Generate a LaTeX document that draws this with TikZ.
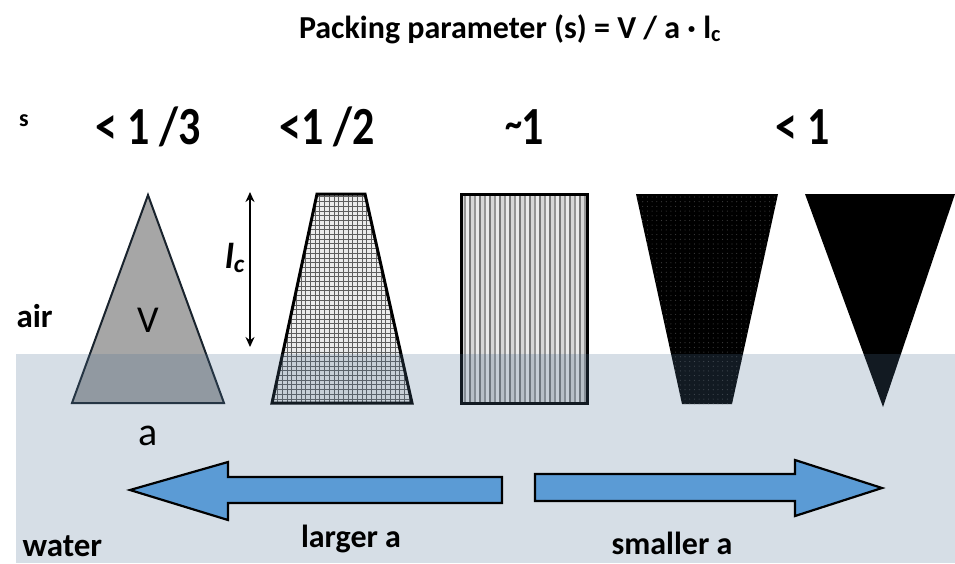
\documentclass[tikz,border=0pt]{standalone}
\usepackage{fontspec}
\setmainfont{Carlito}
\usetikzlibrary{arrows.meta}

\definecolor{waterblue}{RGB}{78,113,147}
\definecolor{arrowblue}{RGB}{91,155,213}
\definecolor{conegray}{RGB}{166,166,166}
\definecolor{conedge}{RGB}{25,35,45}
\definecolor{gridbg}{RGB}{236,236,236}
\definecolor{gridline}{RGB}{95,95,95}
\definecolor{stripecol0}{RGB}{215,215,215}
\definecolor{stripecol1}{RGB}{150,150,150}
\definecolor{stripecol2}{RGB}{235,235,235}
\definecolor{stripecol3}{RGB}{120,120,120}
\definecolor{dotgray}{RGB}{60,60,60}

\newcommand{\tallratio}[1]{\scalebox{1}[1.22]{#1}}

\tikzset{
  heading/.style={font=\fontsize{32}{36}\selectfont\bfseries, anchor=base},
  ratio/.style={font=\fontsize{44}{48}\selectfont\bfseries, anchor=base},
  medium/.style={font=\fontsize{33}{38}\selectfont\bfseries, anchor=base},
  plainlbl/.style={font=\fontsize{38}{42}\selectfont, anchor=base},
  blockarrow/.style={fill=arrowblue, draw=black, line width=2.2pt, line join=miter},
  shapeline/.style={draw=black, line width=3pt, line join=miter}
}

\begin{document}
\begin{tikzpicture}[x=1pt,y=-1pt]
\useasboundingbox (0,0) rectangle (955,563);

% title
\node[heading] (title) at (510,38) {Packing parameter (s) = V / a · l\textsubscript{c}};

% packing parameter values
\node[font=\fontsize{24}{28}\selectfont\bfseries, anchor=base] (slbl) at (24,126) {s};
\node[ratio] (r1) at (148,144) {\tallratio{< 1 /3}};
\node[ratio] (r2) at (327,144) {\tallratio{<1 /2}};
\node[ratio] (r3) at (525,144) {\tallratio{\raisebox{5pt}{\fontsize{34}{34}\selectfont\symbol{"7E}}\kern-1pt 1}};
\node[ratio] (r4) at (803,144) {\tallratio{< 1}};

% cone
\fill[conegray, draw=conedge, line width=2pt, line join=miter]
  (148,195) -- (224,403) -- (72,403) -- cycle;

% truncated cone with fine grid
\begin{scope}
  \clip (317,194) -- (365,194) -- (412,403) -- (272,403) -- cycle;
  \fill[gridbg] (265,188) rectangle (420,410);
  \foreach \gx in {0,...,31}
    \draw[gridline, line width=0.55pt] (268+\gx*4.7,188) -- (268+\gx*4.7,410);
  \foreach \gy in {0,...,46}
    \draw[gridline, line width=0.55pt] (265,192+\gy*4.7) -- (420,192+\gy*4.7);
\end{scope}
\draw[shapeline] (317,194) -- (365,194) -- (412,403) -- (272,403) -- cycle;

% cylinder with vertical stripes
\begin{scope}
  \clip (461,194) rectangle (587,403);
  \foreach \i in {0,...,50}{
    \pgfmathtruncatemacro\m{mod(\i,4)}
    \fill[stripecol\m] (461+\i*2.5,190) rectangle (461+\i*2.5+2.6,406);
  }
\end{scope}
\draw[shapeline] (461,194) rectangle (587,403);

% inverted truncated cone
\begin{scope}
  \clip (636,194) -- (778,194) -- (732,404) -- (682,404) -- cycle;
  \fill[black] (630,190) rectangle (785,410);
  \foreach \dx in {0,...,32}
    \foreach \dy in {0,...,45}
      \fill[dotgray] (638+\dx*4.7,197+\dy*4.7) circle (0.6);
\end{scope}

% inverted cone
\fill[black] (805,194) -- (955,194) -- (883,407) -- cycle;

% chain length
\coordinate (lctop) at (250,192);
\coordinate (lcbot) at (250,347);
\draw[line width=2.4pt, {Stealth[length=10pt,width=9pt]}-{Stealth[length=10pt,width=9pt]}] (lctop) -- (lcbot);
\node[font=\fontsize{36}{40}\selectfont\bfseries\itshape] (lclbl) at (235,258) {l\textsubscript{c}};

% labels in air
\node[medium, anchor=base west] (air) at (13,327) {air};
\node[plainlbl] (vol) at (148,332) {V};

% water
\fill[waterblue, fill opacity=0.23] (16,354) rectangle (955,563);

\node[plainlbl, font=\fontsize{40}{44}\selectfont] (area) at (148,445) {a};
\node[medium, anchor=base west] (water) at (19,556) {water};

% direction arrows
\draw[blockarrow] (130,490) -- (228,462) -- (228,477) -- (502,477) -- (502,503)
  -- (228,503) -- (228,520) -- cycle;
\draw[blockarrow] (535,474) -- (795,474) -- (795,460) -- (882,488) -- (795,516)
  -- (795,501) -- (535,501) -- cycle;

\node[heading] (larger) at (351,547) {larger a};
\node[heading] (smaller) at (672,554) {smaller a};
\end{tikzpicture}
\end{document}
